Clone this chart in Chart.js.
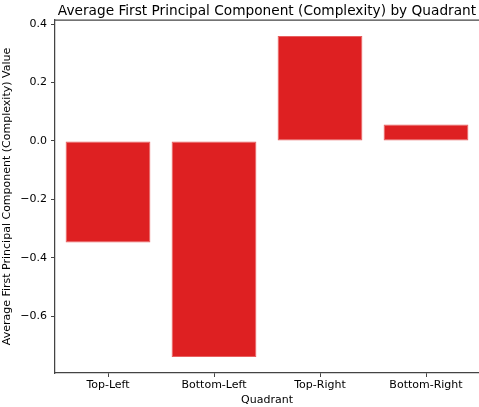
<!DOCTYPE html>
<html>
<head>
<meta charset="utf-8">
<script src="https://cdn.jsdelivr.net/npm/chart.js@4.4.1/dist/chart.umd.min.js"></script>
<style>
  html, body { margin: 0; padding: 0; background: #fff; }
  #wrap { width: 479px; height: 407px; }
</style>
</head>
<body>
<div id="wrap"><canvas id="chart" width="479" height="407"></canvas></div>
<script>
const quadrants = ['Top-Left', 'Bottom-Left', 'Top-Right', 'Bottom-Right'];
const avgComplexity = [-0.347, -0.739, 0.359, 0.056];
const yTicks = [-0.6, -0.4, -0.2, 0.0, 0.2, 0.4];

const titleText = 'Average First Principal Component (Complexity) by Quadrant';
const spineColor = '#444444';
const fontFamily = '"DejaVu Sans", sans-serif';

// matplotlib style: minus sign and one decimal
function fmt(v) {
  return v.toFixed(1).replace('-', '\u2212');
}

// top spine + centered title (title centred over the axes, not the canvas)
const framePlugin = {
  id: 'frame',
  afterDraw(chart) {
    const { ctx, chartArea } = chart;
    ctx.save();
    ctx.strokeStyle = spineColor;
    ctx.lineWidth = 1.25;
    ctx.beginPath();
    ctx.moveTo(chartArea.left, chartArea.top);
    ctx.lineTo(chartArea.right, chartArea.top);
    ctx.stroke();
    ctx.fillStyle = '#000';
    ctx.font = '13.7px ' + fontFamily;
    ctx.textAlign = 'center';
    ctx.textBaseline = 'alphabetic';
    ctx.fillText(titleText, (chartArea.left + chartArea.right) / 2, 15);
    ctx.restore();
  }
};

const ctx = document.getElementById('chart').getContext('2d');
new Chart(ctx, {
  type: 'bar',
  data: {
    labels: quadrants,
    datasets: [{
      data: avgComplexity,
      backgroundColor: 'rgb(222, 32, 34)',
      borderColor: 'rgb(232, 96, 96)',
      borderWidth: 1,
      borderSkipped: false,
      categoryPercentage: 1.0,
      barPercentage: 0.8
    }]
  },
  options: {
    responsive: false,
    animation: false,
    layout: { padding: { top: 20, right: 0, left: 0, bottom: 0 } },
    plugins: {
      legend: { display: false },
      title: { display: false },
      tooltip: { enabled: false }
    },
    scales: {
      x: {
        grid: { offset: false, drawOnChartArea: false, drawTicks: true, tickLength: 4, color: spineColor, lineWidth: 1 },
        border: { display: true, color: spineColor, width: 1.25 },
        ticks: { color: '#000', font: { family: fontFamily, size: 11 }, padding: 2, maxRotation: 0 },
        title: { display: true, text: 'Quadrant', color: '#000', font: { family: fontFamily, size: 11 }, padding: { top: 0, bottom: 0 } },
        afterFit(scale) { scale.height = 34; }
      },
      y: {
        min: -0.794,
        max: 0.414,
        grid: { drawOnChartArea: false, drawTicks: true, tickLength: 4, color: spineColor, lineWidth: 1 },
        border: { display: true, color: spineColor, width: 1.25 },
        ticks: { color: '#000', font: { family: fontFamily, size: 11 }, padding: 4, callback: v => fmt(v) },
        afterBuildTicks(scale) { scale.ticks = yTicks.map(v => ({ value: v })); },
        title: { display: true, text: 'Average First Principal Component (Complexity) Value', color: '#000', font: { family: fontFamily, size: 11 }, padding: { top: 1, bottom: 0 } },
        afterFit(scale) { scale.width = 55; }
      }
    }
  },
  plugins: [framePlugin]
});
</script>
</body>
</html>
